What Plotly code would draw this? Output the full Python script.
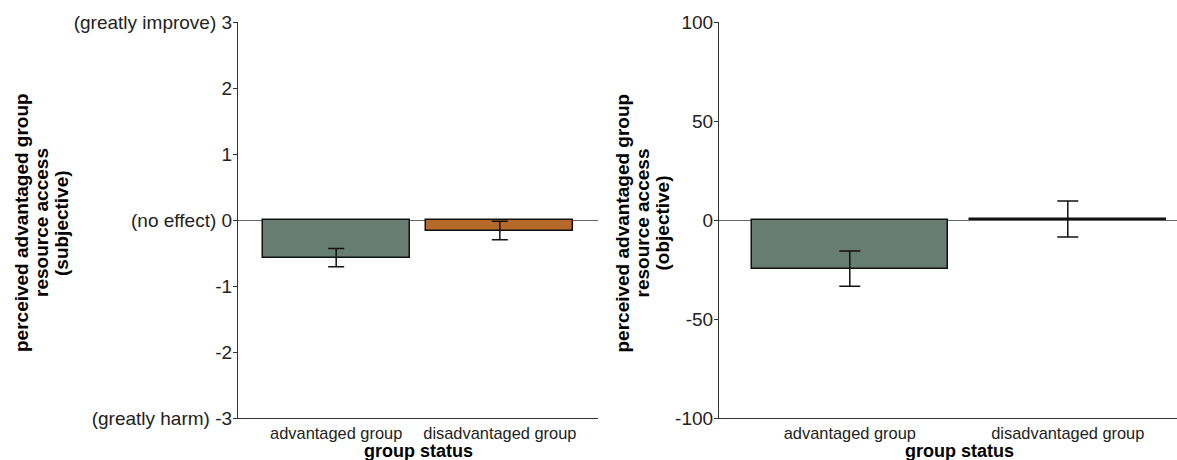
import plotly.graph_objects as go

# Group labels and summary statistics
groups = ["advantaged group", "disadvantaged group"]
group_pos = [1, 2]

subjective_mean = [-0.57, -0.16]
subjective_se = [0.14, 0.14]

objective_mean = [-24.6, 0.5]
objective_se = [8.9, 9.1]

bar_colors = ["#677c73", "#b5692a"]

subj_tickvals = [3, 2, 1, 0, -1, -2, -3]
subj_ticktext = ["(greatly improve) 3", "2", "1", "(no effect) 0", "-1", "-2", "(greatly harm) -3"]
obj_tickvals = [100, 50, 0, -50, -100]
obj_ticktext = ["100", "50", "0", "-50", "-100"]

W, H = 1177, 460
FONT = "Liberation Sans, Arial, sans-serif"


def px_x(p):
    return p / W


def px_y(p):
    return (H - p) / H


fig = go.Figure()

fig.add_trace(go.Bar(
    x=group_pos, y=subjective_mean, width=0.9,
    marker=dict(color=bar_colors, line=dict(color="#111111", width=1.5)),
    error_y=dict(type="data", array=subjective_se, color="#111111", thickness=1.5, width=8),
    xaxis="x", yaxis="y", showlegend=False,
))

fig.add_trace(go.Bar(
    x=group_pos, y=objective_mean, width=0.9,
    marker=dict(color=bar_colors, line=dict(color="#111111", width=1.5)),
    error_y=dict(type="data", array=objective_se, color="#111111", thickness=1.5, width=10.5),
    xaxis="x2", yaxis="y2", showlegend=False,
))

axis_line = dict(showline=True, linecolor="#333333", linewidth=1.2, showgrid=False,
                 mirror=False, automargin=False)
tick_font = dict(family=FONT, size=19, color="#222222")
xtick_font = dict(family=FONT, size=16.4, color="#222222")

y_dom = [px_y(418), px_y(22)]

fig.update_layout(
    width=W, height=H,
    margin=dict(l=0, r=0, t=0, b=0, autoexpand=False),
    paper_bgcolor="white", plot_bgcolor="white",
    bargap=0,
    xaxis=dict(domain=[px_x(238), px_x(598)], range=[0.4, 2.6],
               tickvals=group_pos, ticktext=groups, ticks="", tickfont=xtick_font,
               zeroline=False, anchor="y", **axis_line),
    yaxis=dict(domain=y_dom, range=[-3, 3],
               tickvals=subj_tickvals, ticktext=subj_ticktext,
               ticks="outside", ticklen=4, tickcolor="#333333", tickwidth=1.2,
               ticklabelstandoff=-3,
               tickfont=tick_font, zeroline=True, zerolinecolor="#666666", zerolinewidth=1.2,
               anchor="x", **axis_line),
    xaxis2=dict(domain=[px_x(719), 1.0], range=[0.4, 0.4 + (W - 719) / 218],
                tickvals=group_pos, ticktext=groups, ticks="", tickfont=xtick_font,
                zeroline=False, anchor="y2", **axis_line),
    yaxis2=dict(domain=y_dom, range=[-100, 100],
                tickvals=obj_tickvals, ticktext=obj_ticktext,
                ticks="outside", ticklen=4, tickcolor="#333333", tickwidth=1.2,
                ticklabelstandoff=-3,
                tickfont=tick_font, zeroline=True, zerolinecolor="#666666", zerolinewidth=1.2,
                anchor="x2", **axis_line),
)

title_font = dict(family=FONT, size=19, color="#000000")

# Rotated, three-line y-axis titles
subj_lines = ["perceived advantaged group", "resource access", "(subjective)"]
obj_lines = ["perceived advantaged group", "resource access", "(objective)"]
for lines, x0 in [(subj_lines, 21), (obj_lines, 621.5)]:
    for i, txt in enumerate(lines):
        fig.add_annotation(
            text=f"<b>{txt}</b>", xref="paper", yref="paper",
            x=px_x(x0 + 20 * i), y=px_y(223), xanchor="center", yanchor="middle",
            textangle=-90, showarrow=False, font=title_font,
        )

# x-axis titles
for xc in [418, 959]:
    fig.add_annotation(
        text="<b>group status</b>", xref="paper", yref="paper",
        x=px_x(xc), y=px_y(450.5), xanchor="center", yanchor="middle",
        showarrow=False, font=dict(family=FONT, size=18, color="#000000"),
    )

fig.write_html("out.html")
